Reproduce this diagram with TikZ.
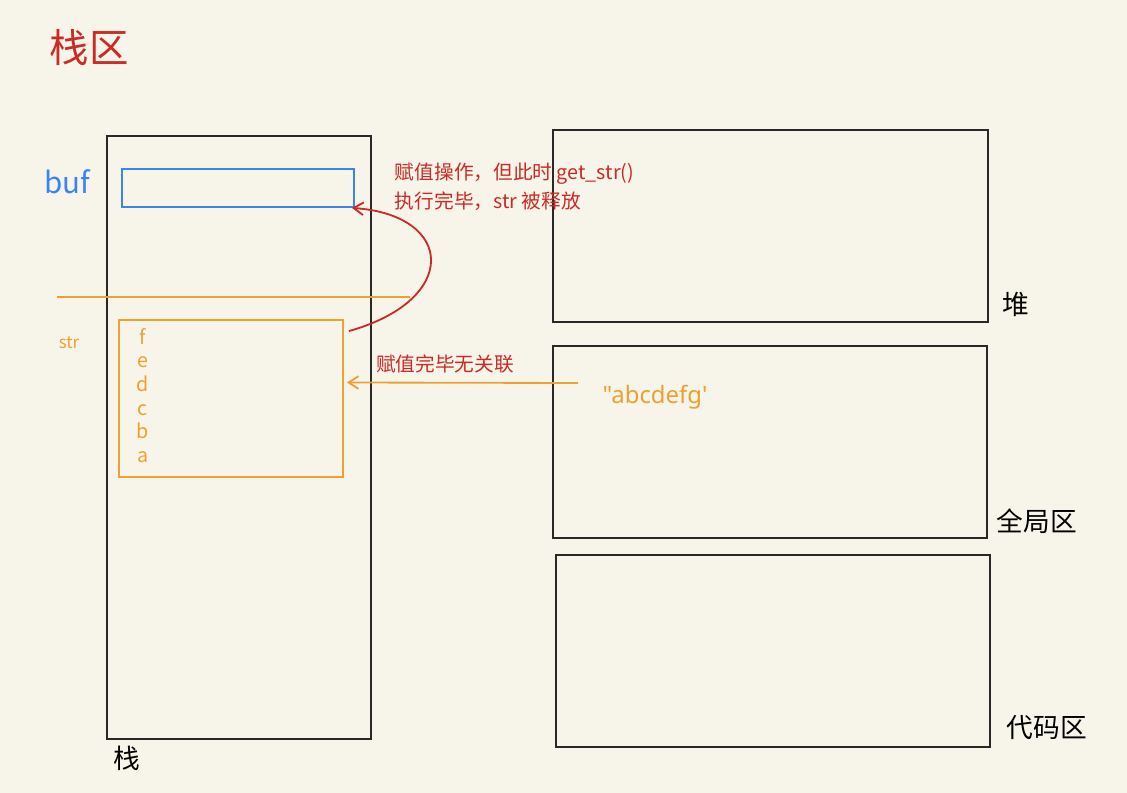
\documentclass[tikz,border=0pt]{standalone}
\usepackage{fontspec}
\setmainfont{Noto Sans CJK SC}
\newfontfamily\plainlatin{Noto Sans}
\usetikzlibrary{fit,calc,arrows.meta}
\definecolor{paper}{RGB}{247,245,234}
\definecolor{inkred}{RGB}{204,42,36}
\definecolor{inkblue}{RGB}{58,132,240}
\definecolor{inkorange}{RGB}{239,160,52}
\definecolor{inkgray}{RGB}{40,40,40}
\begin{document}
\begin{tikzpicture}[x=0.025cm,y=-0.025cm,
  region/.style={draw=inkgray,line width=1.3pt,inner sep=0pt},
  seglabel/.style={font=\fontsize{19}{22}\selectfont,text=black},
  note/.style={font=\fontsize{14}{17}\selectfont,text=inkred},
  strch/.style={font=\fontsize{14}{16}\selectfont,text=inkorange,anchor=base},
  barb/.style={-{Straight Barb[length=7pt,width=9pt]},line width=1.3pt}]
\fill[paper] (0,0) rectangle (1127,793);
\node[font=\fontsize{28}{32}\selectfont,text=inkred] (title) at (89,48) {栈区};
% stack segment
\node[region,fit={(107,136) (371,739)}] (stack) {};
\node[seglabel] (stacklbl) at (127,758) {栈};
\node[draw=inkblue,line width=1.3pt,inner sep=0pt,fit={(122,169) (354,207)}] (buf) {};
\node[font=\fontsize{21}{24}\selectfont,text=inkblue] (buflbl) at (67,182) {buf};
\draw[inkorange,line width=1.3pt] (57,297) -- (410,297);
\node[draw=inkorange,line width=1.3pt,inner sep=0pt,fit={(119,320) (343,477)}] (strbox) {};
\node[font=\fontsize{12}{14}\selectfont,text=inkorange] (strlbl) at (69,343) {str};
\foreach \c [count=\i] in {f,e,d,c,b,a}
  \node[strch] (ch\c) at (143,320.5+23.7*\i) {\c};
% heap, global, code
\node[region,fit={(553,130) (988,322)}] (heap) {};
\node[seglabel] (heaplbl) at (1016,304) {堆};
\node[region,fit={(553,346) (987,538)}] (global) {};
\node[seglabel] (globallbl) at (1037,521) {全局区};
\node[region,fit={(556,555) (990,747)}] (code) {};
\node[seglabel] (codelbl) at (1047,728) {代码区};
% return of get_str()
\draw[barb,inkred] ($(strbox.north east)+(5,12)$) .. controls (460,300) and (455,215) .. ($(buf.south east)+(-3,0)$);
\node[note,anchor=west] (note1) at (390,174) {赋值操作，但此时 get\_str()};
\node[note,anchor=west] (note2) at (390,201) {执行完毕，str 被释放};
% string literal
\node[font=\plainlatin\fontsize{17}{20}\selectfont,text=inkorange] (lit) at (655,397) {\char"0022abcdefg\char"0027};
\coordinate (litend) at (578,383);
\draw[barb,inkorange] (litend) -- ($(strbox.east)+(3,-16)$);
\node[note] (note3) at (445,364) {赋值完毕无关联};
\end{tikzpicture}
\end{document}
